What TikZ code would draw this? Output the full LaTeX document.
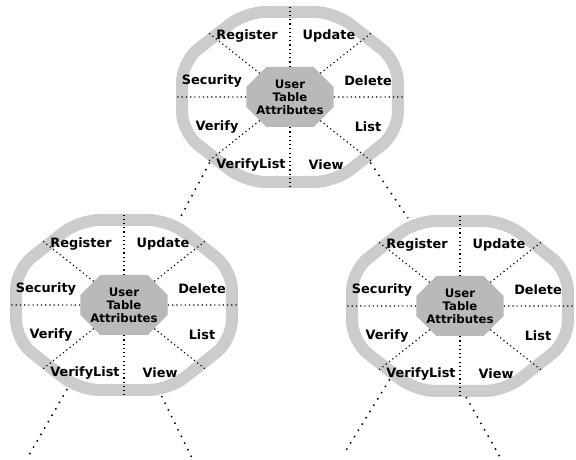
\documentclass[tikz,border=0pt]{standalone}
\usepackage{fontspec}
\setmainfont{DejaVu Sans}
\usepackage{tikz}
\usetikzlibrary{shapes.misc,shapes.geometric}

\tikzset{
  ring/.style={regular polygon, regular polygon sides=8, draw=gray!40,
    line width=0.36cm, minimum size=5.52cm, inner sep=0pt, xscale=1.27,
    rounded corners=0.6cm},
  core/.style={chamfered rectangle, fill=gray!55, inner sep=0pt,
    minimum width=2.35cm, minimum height=1.8cm,
    chamfered rectangle xsep=0.3cm, chamfered rectangle ysep=0.3cm,
    align=center, font=\fontsize{10}{11}\selectfont\bfseries},
  lbl/.style={font=\fontsize{11}{12}\selectfont\bfseries, inner sep=1pt},
  spoke/.style={line width=1pt, dash pattern=on 1pt off 2.6pt},
  link/.style={line width=1.3pt, dash pattern=on 1.3pt off 5pt}
}

\begin{document}
\begin{tikzpicture}[x=0.03cm, y=-0.03cm]
    \useasboundingbox (0,0) rectangle (576,460);

    % Three wheels: ring, core, spokes and labels
    \foreach \w/\x/\y in {top/290/97, left/124/305, right/460/306} {
        \node[ring] (\w-ring) at (\x,\y) {};
        \node[core] (\w-core) at (\x,\y) {User\\Table\\Attributes};
        \foreach \a/\b in {0/0, 38/45, 90/90, 142/135, 180/180, 218/225,
            270/270, 322/315}
            \draw[spoke] (\w-core.\a) -- (\w-ring.\b);
        \foreach \t/\dx/\dy in {Register/-43/-61, Update/39/-61,
            Security/-78/-16, Delete/78/-16, Verify/-73/30, List/78/30,
            VerifyList/-39/68, View/36/68}
            \node[lbl] (\w-\t) at ({\x+\dx},{\y+\dy}) {\t};
    }

    % Links between wheels
    \draw[link] (top-ring.226) -- (left-ring.63);
    \draw[link] (top-ring.314) -- (right-ring.115);

    % Open links at the bottom
    \coordinate (left-outa) at (29,455);
    \coordinate (left-outb) at (192,458);
    \coordinate (right-outa) at (345,452);
    \coordinate (right-outb) at (500,457);
    \draw[link] (left-ring.242) -- (left-outa);
    \draw[link] (left-ring.288) -- (left-outb);
    \draw[link] (right-ring.233) -- (right-outa);
    \draw[link] (right-ring.273) -- (right-outb);
\end{tikzpicture}
\end{document}
